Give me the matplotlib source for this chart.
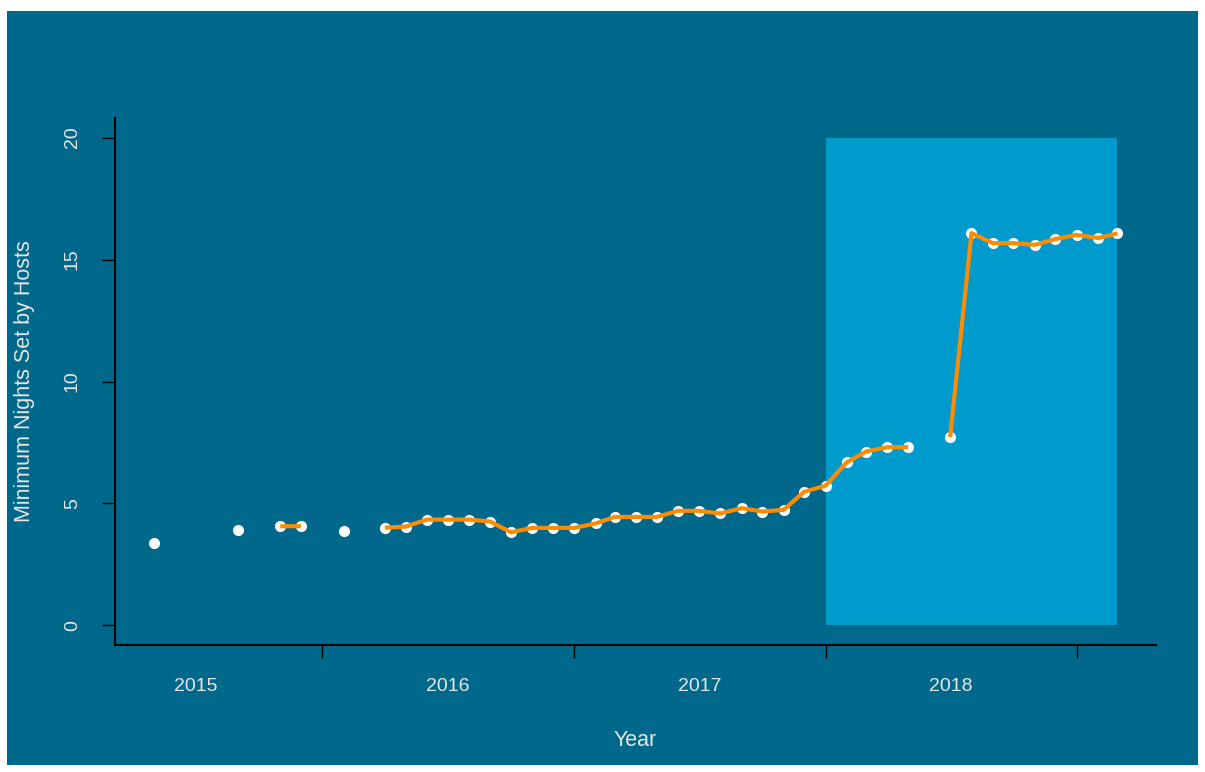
import numpy as np
import pandas as pd
import matplotlib
matplotlib.use("Agg")
import matplotlib.pyplot as plt
import matplotlib.dates as mdates
from matplotlib.patches import Rectangle

# -------------------------------------------------
# Data (monthly averages, NaN = no scrape that month)
# -------------------------------------------------
months = pd.date_range("2015-05-01", "2019-03-01", freq="MS")
min_nights = [
    3.37, np.nan, np.nan, np.nan, 3.93, np.nan, 4.07, 4.07,        # 2015-05 .. 2015-12
    np.nan, 3.88, np.nan, 4.01, 4.05, 4.34, 4.34, 4.34,            # 2016-01 .. 2016-08
    4.26, 3.82, 4.00, 4.00,                                        # 2016-09 .. 2016-12
    4.00, 4.18, 4.45, 4.45, 4.45, 4.70, 4.70, 4.59,                # 2017-01 .. 2017-08
    4.81, 4.67, 4.74, 5.48,                                        # 2017-09 .. 2017-12
    5.73, 6.69, 7.13, 7.31, 7.31, np.nan, 7.72, 16.08,             # 2018-01 .. 2018-08
    15.67, 15.67, 15.60, 15.84,                                    # 2018-09 .. 2018-12
    16.01, 15.88, 16.07,                                           # 2019-01 .. 2019-03
]
highlight_start = "2018-01-01"
highlight_end = "2019-03-01"
year_labels = ["2015", "2016", "2017", "2018"]
year_breaks = ["2016-01-01", "2017-01-01", "2018-01-01", "2019-01-01"]
y_ticks = [0, 5, 10, 15, 20]

# -------------------------------------------------
# Style
# -------------------------------------------------
BG = "#00688B"       # deepskyblue4
HL = "#009ACD"       # deepskyblue3
LINE = "#FF8C00"     # darkorange
TXT = "#E6E6E6"
plt.rcParams["font.family"] = ["Liberation Sans", "DejaVu Sans"]

W, H = 1205, 772
fig = plt.figure(figsize=(W / 100, H / 100), dpi=100, facecolor="white")
fig.patches.append(Rectangle((7 / W, 1 - 765 / H), (1198 - 7) / W, (765 - 11) / H,
                             transform=fig.transFigure, facecolor=BG,
                             edgecolor="none", zorder=-10))

ax = fig.add_axes([115 / W, 1 - 645 / H, (1156 - 115) / W, (645 - 118) / H])
ax.set_facecolor("none")
ax.set_zorder(5)

x = mdates.date2num(months)
y = np.array(min_nights, dtype=float)

# highlighted period
x0 = mdates.date2num(pd.Timestamp(highlight_start))
x1 = mdates.date2num(pd.Timestamp(highlight_end))
ax.add_patch(Rectangle((x0, 0), x1 - x0, 20, facecolor=HL, edgecolor="none", zorder=1))

ax.plot(x, y, "o", color="white", markersize=7, zorder=2)
ax.plot(x, y, "-", color=LINE, linewidth=3, zorder=3, solid_capstyle="butt")

# R-style 4% padding
pad = 0.04 * (x.max() - x.min())
ax.set_xlim(x.min() - pad, x.max() + pad)
ax.set_ylim(-0.8, 20.8)

ax.spines["top"].set_visible(False)
ax.spines["right"].set_visible(False)
for s in ["left", "bottom"]:
    ax.spines[s].set_color("black")
    ax.spines[s].set_linewidth(1.5)

ax.set_yticks(y_ticks)
ax.set_yticklabels([str(v) for v in y_ticks], rotation=90, va="center")
ax.tick_params(axis="y", length=9.5, width=1, color="black", labelcolor=TXT,
               labelsize=14, pad=15)

ax.set_xticks(mdates.date2num(pd.to_datetime(year_breaks)))
ax.set_xticklabels([])
mid_years = mdates.date2num(pd.to_datetime([f"{yr}-07-02" for yr in year_labels]))
ax.set_xticks(mid_years, minor=True)
ax.set_xticklabels(year_labels, minor=True)
ax.tick_params(axis="x", which="major", length=9.5, width=1, color="black")
ax.tick_params(axis="x", which="minor", length=0, labelcolor=TXT, labelsize=14, pad=24)

fig.text(25 / W, 1 - 381.5 / H, "Minimum Nights Set by Hosts", rotation=90,
         ha="center", va="center", color=TXT, fontsize=15.5)
fig.text(635.5 / W, 1 - 740 / H, "Year", ha="center", va="center",
         color=TXT, fontsize=15.5)

fig.savefig("out.png", dpi=100, facecolor="white")
